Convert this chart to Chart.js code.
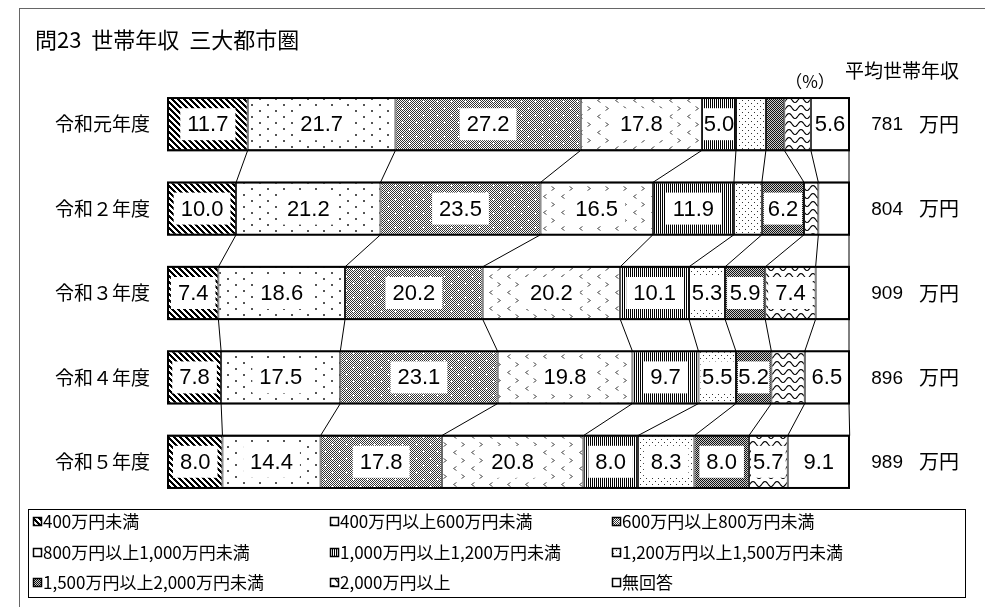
<!DOCTYPE html>
<html>
<head>
<meta charset="utf-8">
<script src="https://cdn.jsdelivr.net/npm/chart.js@4.4.1/dist/chart.umd.min.js"></script>
<style>
html, body { margin: 0; padding: 0; background: #fff; }
canvas { display: block; }
</style>
</head>
<body>
<canvas id="income-chart" width="985" height="607"></canvas>
<script>
// 年度
const categories = ['令和元年度', '令和２年度', '令和３年度', '令和４年度', '令和５年度'];
// 凡例
const seriesNames = [
    '400万円未満', '400万円以上600万円未満', '600万円以上800万円未満',
    '800万円以上1,000万円未満', '1,000万円以上1,200万円未満', '1,200万円以上1,500万円未満',
    '1,500万円以上2,000万円未満', '2,000万円以上', '無回答'
];
// 各区分の割合(%)
const under400 = [11.7, 10.0, 7.4, 7.8, 8.0];
const from400to600 = [21.7, 21.2, 18.6, 17.5, 14.4];
const from600to800 = [27.2, 23.5, 20.2, 23.1, 17.8];
const from800to1000 = [17.8, 16.5, 20.2, 19.8, 20.8];
const from1000to1200 = [5.0, 11.9, 10.1, 9.7, 8.0];
const from1200to1500 = [4.4, 4.1, 5.3, 5.5, 8.3];
const from1500to2000 = [2.7, 6.2, 5.9, 5.2, 8.0];
const over2000 = [3.9, 2.1, 7.4, 4.9, 5.7];
const noAnswer = [5.6, 4.5, 4.9, 6.5, 9.1];
// 平均世帯年収(万円)
const avgIncome = [781, 804, 909, 896, 989];

const seriesValues = [under400, from400to600, from600to800, from800to1000,
    from1000to1200, from1200to1500, from1500to2000, over2000, noAnswer];

const JP = '"Noto Sans CJK JP", sans-serif';

// 模様を作る
function tile(w, h, draw) {
    const c = document.createElement('canvas');
    c.width = w;
    c.height = h;
    const g = c.getContext('2d');
    g.fillStyle = '#fff';
    g.fillRect(0, 0, w, h);
    g.fillStyle = '#000';
    g.strokeStyle = '#000';
    draw(g);
    return g.createPattern(c, 'repeat');
}

const patterns = [
    // 斜線
    tile(6, 6, g => {
        for (let y = 0; y < 6; y++)
            for (let x = 0; x < 6; x++)
                if (((x - y) % 6 + 6) % 6 < 3) g.fillRect(x, y, 1, 1);
    }),
    // まばらな点
    tile(16, 12, g => {
        g.fillStyle = '#555';
        g.fillRect(3, 2, 2, 2);
        g.fillRect(11, 8, 2, 2);
    }),
    // 網 + 白い十字
    tile(14, 14, g => {
        g.fillStyle = '#333';
        for (let y = 0; y < 14; y++)
            for (let x = 0; x < 14; x++)
                if ((x + y) % 2 === 0) g.fillRect(x, y, 1, 1);
        g.fillStyle = '#fff';
        [[3, 3], [10, 10]].forEach(([x, y]) => {
            g.fillRect(x - 1, y, 3, 1);
            g.fillRect(x, y - 1, 1, 3);
        });
    }),
    // 山形
    tile(18, 16, g => {
        g.strokeStyle = '#555';
        g.lineWidth = 1;
        g.beginPath();
        g.moveTo(6.5, 2.5); g.lineTo(3.5, 4.5); g.lineTo(6.5, 6.5);
        g.moveTo(11.5, 10.5); g.lineTo(14.5, 12.5); g.lineTo(11.5, 14.5);
        g.stroke();
    }),
    // 縦線
    tile(2, 1, g => { g.fillRect(0, 0, 1, 1); }),
    // 細かい点
    tile(6, 6, g => {
        g.fillStyle = '#333';
        g.fillRect(1, 1, 1, 1);
        g.fillRect(4, 4, 1, 1);
    }),
    // 網
    tile(2, 2, g => {
        g.fillStyle = '#ccc';
        g.fillRect(0, 0, 2, 2);
        g.fillStyle = '#111';
        g.fillRect(0, 0, 1, 1);
        g.fillRect(1, 1, 1, 1);
    }),
    // 波線
    tile(12, 8, g => {
        g.lineWidth = 1.1;
        g.beginPath();
        for (let t = -1; t <= 13; t++) {
            const yy = 4 + 2.5 * Math.sin((t / 12) * 2 * Math.PI);
            if (t === -1) g.moveTo(t, yy); else g.lineTo(t, yy);
        }
        g.stroke();
    }),
    // 白
    '#fff'
];

// 文字・枠・連結線・ラベル
const decoPlugin = {
    id: 'deco',
    beforeDraw(chart) {
        const ctx = chart.ctx;
        ctx.save();
        ctx.fillStyle = '#fff';
        ctx.fillRect(0, 0, chart.width, chart.height);
        ctx.strokeStyle = '#666';
        ctx.lineWidth = 1;
        ctx.strokeRect(19.5, 8.5, 1100, 700);

        ctx.fillStyle = '#000';
        ctx.textBaseline = 'middle';
        ctx.font = '22px ' + JP;
        ctx.textAlign = 'left';
        ctx.fillText('問23  世帯年収  三大都市圏', 35, 40);

        ctx.font = '17px ' + JP;
        ctx.textAlign = 'center';
        ctx.fillText('（%）', 810, 82);
        ctx.font = '19px ' + JP;
        ctx.textAlign = 'left';
        ctx.fillText('平均世帯年収', 845, 71);

        // 凡例
        ctx.strokeStyle = '#000';
        ctx.strokeRect(28.5, 509.5, 937, 88);
        const colX = [33, 330, 612];
        const rowY = [521, 552, 582];
        ctx.font = '17px ' + JP;
        seriesNames.forEach((name, i) => {
            const x = colX[i % 3];
            const y = rowY[Math.floor(i / 3)];
            ctx.fillStyle = patterns[i];
            ctx.fillRect(x, y - 4, 9, 9);
            ctx.strokeStyle = '#000';
            ctx.lineWidth = 1.5;
            ctx.strokeRect(x + 0.5, y - 3.5, 8, 8);
            ctx.fillStyle = '#000';
            ctx.fillText(name, x + 10, y + 1);
        });
        ctx.restore();
    },
    afterDatasetsDraw(chart) {
        const ctx = chart.ctx;
        const yScale = chart.scales.y;
        const xScale = chart.scales.x;
        const metas = seriesValues.map((_, i) => chart.getDatasetMeta(i));
        ctx.save();

        // 連結線
        ctx.strokeStyle = '#000';
        ctx.lineWidth = 1;
        for (let r = 0; r < categories.length - 1; r++) {
            metas.forEach(meta => {
                const a = meta.data[r];
                const b = meta.data[r + 1];
                ctx.beginPath();
                ctx.moveTo(a.x, a.y + a.height / 2);
                ctx.lineTo(b.x, b.y - b.height / 2);
                ctx.stroke();
            });
        }

        // 帯の外枠
        ctx.lineWidth = 2;
        metas[0].data.forEach(el => {
            const left = xScale.getPixelForValue(0);
            const right = xScale.getPixelForValue(100);
            ctx.strokeRect(left, el.y - el.height / 2, right - left, el.height);
        });

        // 数値ラベル
        ctx.font = '22px "Liberation Sans", sans-serif';
        ctx.textAlign = 'center';
        ctx.textBaseline = 'middle';
        metas.forEach((meta, i) => {
            meta.data.forEach((el, r) => {
                const v = seriesValues[i][r];
                if (v < 5.0) return;
                const text = v.toFixed(1);
                const cx = (el.x + el.base) / 2;
                const segW = Math.abs(el.x - el.base);
                const tw = ctx.measureText(text).width;
                const bw = Math.min(tw + 14, segW - 4);
                ctx.fillStyle = '#fff';
                ctx.fillRect(cx - bw / 2, el.y - 16, bw, 32);
                ctx.fillStyle = '#000';
                ctx.fillText(text, cx, el.y + 1);
            });
        });

        // 年度と平均年収
        categories.forEach((cat, r) => {
            const y = yScale.getPixelForValue(r);
            ctx.fillStyle = '#000';
            ctx.font = '19px ' + JP;
            ctx.textAlign = 'right';
            ctx.fillText(cat, 150, y);
            ctx.font = '19px "Liberation Sans", sans-serif';
            ctx.fillText(String(avgIncome[r]), 903, y + 1);
            ctx.font = '20px ' + JP;
            ctx.textAlign = 'left';
            ctx.fillText('万円', 919, y);
        });
        ctx.restore();
    }
};

const ctx = document.getElementById('income-chart').getContext('2d');
new Chart(ctx, {
    type: 'bar',
    data: {
        labels: categories,
        datasets: seriesValues.map((values, i) => ({
            label: seriesNames[i],
            data: values,
            backgroundColor: patterns[i],
            borderColor: '#000',
            borderWidth: 1,
            borderSkipped: false,
            barPercentage: 0.62,
            categoryPercentage: 1.0
        }))
    },
    options: {
        indexAxis: 'y',
        responsive: false,
        animation: false,
        layout: {
            padding: { left: 168, right: 136, top: 82, bottom: 103 }
        },
        scales: {
            x: { stacked: true, min: 0, max: 100, display: false },
            y: { stacked: true, display: false }
        },
        plugins: {
            legend: { display: false },
            title: { display: false },
            tooltip: { enabled: false }
        }
    },
    plugins: [decoPlugin]
});
</script>
</body>
</html>
